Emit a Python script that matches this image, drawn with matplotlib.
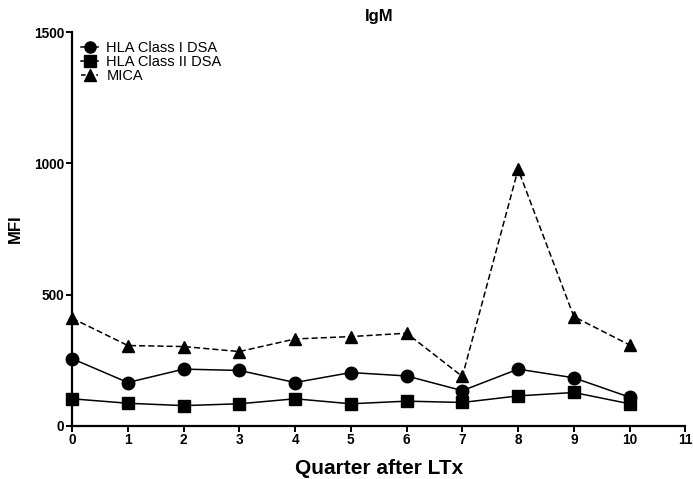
import matplotlib
matplotlib.use("Agg")
import matplotlib.pyplot as plt
from matplotlib.lines import Line2D

plt.rcParams['font.family'] = ['Liberation Sans', 'DejaVu Sans']

quarters = [0, 1, 2, 3, 4, 5, 6, 7, 8, 9, 10]
hla_class1 = [256, 165, 216, 211, 165, 203, 190, 134, 216, 183, 109]
hla_class2 = [103, 86, 77, 84, 103, 84, 94, 89, 114, 127, 84]
mica = [410, 306, 302, 283, 331, 340, 353, 188, 977, 416, 308]
series_labels = ["HLA Class I DSA", "HLA Class II DSA", "MICA"]
x_ticks = list(range(0, 12))
y_ticks = [0, 500, 1000, 1500]

fig = plt.figure(figsize=(6.93, 4.79), dpi=100)
ax = fig.add_axes([0.104, 0.111, 0.885, 0.822])

ax.plot(quarters, hla_class1, color='black', lw=1.1, marker='o', ms=9,
        label=series_labels[0])
ax.plot(quarters, hla_class2, color='black', lw=1.1, marker='s', ms=8.5,
        label=series_labels[1])
ax.plot(quarters, mica, color='black', lw=1.1, ls=(0, (4, 2)), marker='^',
        ms=9, label=series_labels[2])

ax.set_xlim(0, 11)
ax.set_ylim(0, 1500)
ax.set_xticks(x_ticks)
ax.set_yticks(y_ticks)
for s in ('top', 'right'):
    ax.spines[s].set_visible(False)
for s in ('left', 'bottom'):
    ax.spines[s].set_linewidth(1.6)
ax.tick_params(axis='both', direction='out', length=4, width=1.4,
               labelsize=9.8, pad=1.5)
for lab in ax.get_xticklabels() + ax.get_yticklabels():
    lab.set_fontweight('bold')
for l in ax.get_lines():
    l.set_clip_on(False)

ax.set_title("IgM", fontsize=12, fontweight='bold', pad=8)
ax.set_xlabel("Quarter after LTx", fontsize=15, fontweight='bold', labelpad=8)
ax.set_ylabel("MFI", fontsize=12, fontweight='bold', labelpad=8)

handles = [
    Line2D([], [], color='black', lw=1.1, marker='o', ms=8),
    Line2D([], [], color='black', lw=1.1, marker='s', ms=8),
    Line2D([], [], color='black', lw=1.1, ls=(0, (3, 2)), marker='^', ms=8),
]
ax.legend(handles, series_labels, loc='upper left', bbox_to_anchor=(0.0, 1.0),
          frameon=False, fontsize=10.5, handlelength=1.2, handletextpad=0.55,
          labelspacing=0.0, borderaxespad=0.3, borderpad=0.3)

fig.savefig("out.png", dpi=100)
